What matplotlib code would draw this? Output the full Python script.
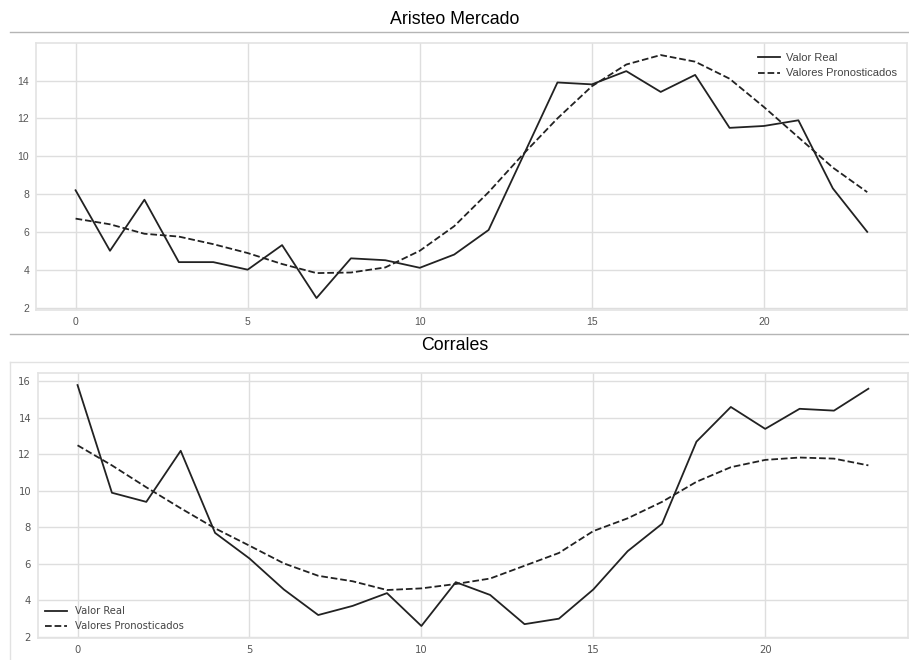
import matplotlib.pyplot as plt
from matplotlib.lines import Line2D
import numpy as np

# Aristeo Mercado
aristeo_real = [8.2, 5.0, 7.7, 4.4, 4.4, 4.0, 5.3, 2.5, 4.6, 4.5, 4.1, 4.8,
                6.1, 10.0, 13.9, 13.8, 14.5, 13.4, 14.3, 11.5, 11.6, 11.9, 8.3, 6.0]
aristeo_pron = [6.7, 6.4, 5.9, 5.75, 5.35, 4.88, 4.3, 3.82, 3.85, 4.12, 5.0, 6.3,
                8.1, 10.1, 12.0, 13.7, 14.85, 15.35, 15.0, 14.1, 12.6, 11.0, 9.4, 8.1]

# Corrales
corrales_real = [15.8, 9.9, 9.4, 12.2, 7.7, 6.3, 4.6, 3.2, 3.7, 4.4, 2.6, 5.0,
                 4.3, 2.7, 3.0, 4.6, 6.7, 8.2, 12.7, 14.6, 13.4, 14.5, 14.4, 15.6]
corrales_pron = [12.5, 11.4, 10.2, 9.05, 7.95, 7.0, 6.03, 5.35, 5.05, 4.57, 4.66, 4.9,
                 5.2, 5.9, 6.6, 7.8, 8.5, 9.4, 10.5, 11.3, 11.7, 11.83, 11.77, 11.4]

titles = ["Aristeo Mercado", "Corrales"]
labels = ["Valor Real", "Valores Pronosticados"]

fig = plt.figure(figsize=(9.09, 6.6), dpi=100)

ax1 = fig.add_axes([0.0396, 0.530, 0.958, 0.405])
ax2 = fig.add_axes([0.0418, 0.0333, 0.957, 0.4015])


def style(ax, family, size):
    ax.set_facecolor("white")
    ax.grid(True, color="#dedede", linewidth=1.0)
    ax.set_axisbelow(True)
    for s in ax.spines.values():
        s.set_color("#e3e3e3")
        s.set_linewidth(1.2)
    ax.tick_params(length=0, pad=5, labelsize=size, labelcolor="#555555")
    for t in ax.get_xticklabels() + ax.get_yticklabels():
        t.set_fontfamily(family)


x = np.arange(len(aristeo_real))

ax1.plot(x, aristeo_real, color="#222222", lw=1.3, label=labels[0])
ax1.plot(x, aristeo_pron, color="#222222", lw=1.3, ls="--", label=labels[1])
ax1.set_yticks([2, 4, 6, 8, 10, 12, 14])
ax1.set_xticks([0, 5, 10, 15, 20])
style(ax1, "Liberation Sans", 7.5)
leg1 = ax1.legend(loc="upper right", frameon=False, prop={"family": "Liberation Sans", "size": 8},
                  handlelength=2.0, handletextpad=0.5, borderaxespad=0.5)
for t in leg1.get_texts():
    t.set_color("#444444")

ax2.plot(x, corrales_real, color="#222222", lw=1.3, label=labels[0])
ax2.plot(x, corrales_pron, color="#222222", lw=1.3, ls="--", label=labels[1])
ax2.set_yticks([2, 4, 6, 8, 10, 12, 14, 16])
ax2.set_xticks([0, 5, 10, 15, 20])
style(ax2, "DejaVu Sans", 7.2)
leg2 = ax2.legend(loc="lower left", frameon=False, prop={"family": "DejaVu Sans", "size": 7.2},
                  handlelength=2.2, borderaxespad=0.3)
for t in leg2.get_texts():
    t.set_color("#444444")

# titles and separators
fig.text(0.5, 0.970, titles[0], ha="center", va="center", fontsize=12.8, family="Liberation Sans")
fig.text(0.5, 0.477, titles[1], ha="center", va="center", fontsize=12.8, family="Liberation Sans")
fig.add_artist(Line2D([0.011, 1.0], [0.9515, 0.9515], color="#b5b5b5", lw=1.0))
fig.add_artist(Line2D([0.011, 1.0], [0.494, 0.494], color="#b5b5b5", lw=1.0))
fig.add_artist(Line2D([0.011, 1.0], [0.4515, 0.4515], color="#e2e2e2", lw=1.0))
fig.add_artist(Line2D([0.011, 0.011], [0.0, 0.4515], color="#e2e2e2", lw=1.0))

fig.savefig("out.png", dpi=100)
